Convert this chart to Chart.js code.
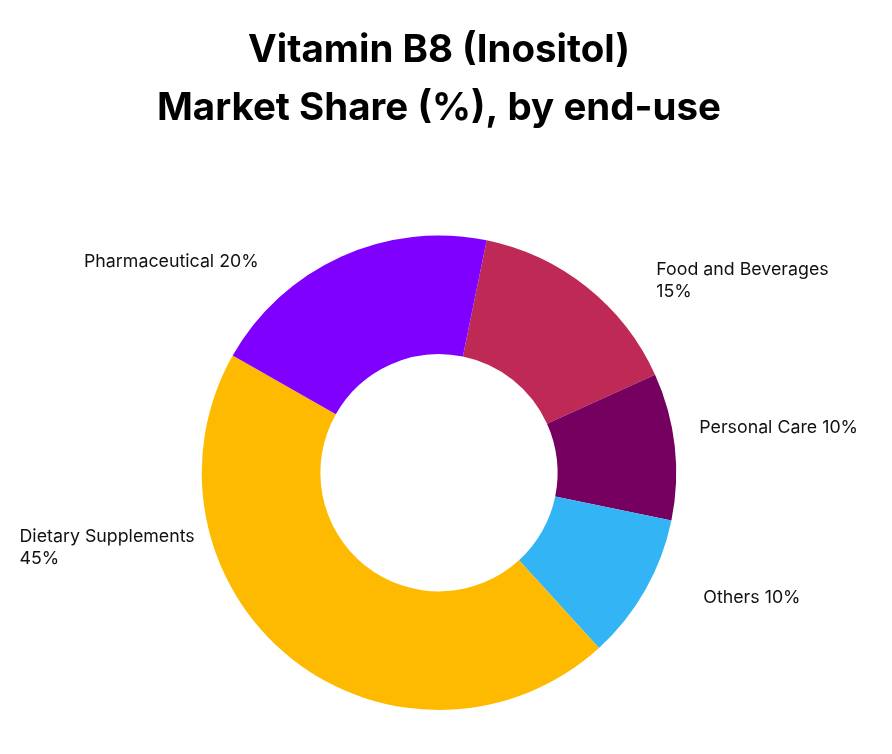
<!DOCTYPE html>
<html>
<head>
<meta charset="utf-8">
<title>Vitamin B8 (Inositol) Market Share</title>
<script src="https://cdn.jsdelivr.net/npm/chart.js"></script>
<style>
    html, body { margin: 0; padding: 0; background: #fff; }
    .chart-box { width: 892px; height: 754px; }
</style>
</head>
<body>
<div class="chart-box">
    <canvas id="donut"></canvas>
</div>
<script>
    // Data
    const categories = ['Food and Beverages', 'Personal Care', 'Others', 'Dietary Supplements', 'Pharmaceutical'];
    const shares = [15, 10, 10, 45, 20];
    const labelLines = [
        ['Food and Beverages', '15%'],
        ['Personal Care 10%'],
        ['Others 10%'],
        ['Dietary Supplements', '45%'],
        ['Pharmaceutical 20%']
    ];
    const colors = ['#BE2A55', '#750060', '#33B4F5', '#FDBA00', '#7F00FF'];

    // where each label sits, relative to the centre, in units of the outer radius
    const labelSpots = [
        { dx: 0.916, dy: -0.81, align: 'left' },
        { dx: 1.097, dy: -0.19, align: 'left' },
        { dx: 1.114, dy: 0.527, align: 'left' },
        { dx: -1.768, dy: 0.316, align: 'left' },
        { dx: -0.76, dy: -0.89, align: 'right' }
    ];

    // Simple plugin to draw the outside labels
    const outsideLabels = {
        id: 'outsideLabels',
        afterDatasetsDraw(chart) {
            const ctx = chart.ctx;
            const arcs = chart.getDatasetMeta(0).data;
            ctx.save();
            ctx.font = '17.8px Inter';
            ctx.fillStyle = '#111';
            ctx.textBaseline = 'middle';
            arcs.forEach((arc, i) => {
                const r = arc.outerRadius;
                const spot = labelSpots[i];
                const lines = labelLines[i];
                const lh = 22;
                const x = arc.x + spot.dx * r;
                const y0 = arc.y + spot.dy * r - (lines.length - 1) * lh / 2;
                ctx.textAlign = spot.align;
                lines.forEach((t, j) => ctx.fillText(t, x, y0 + j * lh));
            });
            ctx.restore();
        }
    };

    new Chart(document.getElementById('donut').getContext('2d'), {
        type: 'doughnut',
        data: {
            labels: categories,
            datasets: [{
                data: shares,
                backgroundColor: colors,
                borderWidth: 0
            }]
        },
        options: {
            responsive: true,
            maintainAspectRatio: false,
            animation: false,
            cutout: '50%',
            rotation: 11.6,
            layout: {
                padding: { top: 0, bottom: 44, left: 0, right: 14 }
            },
            plugins: {
                legend: { display: false },
                tooltip: { enabled: false },
                title: {
                    display: true,
                    text: ['Vitamin B8 (Inositol)', 'Market Share (%), by end-use'],
                    color: '#000',
                    font: { family: 'Inter', size: 38.5, weight: 'bold', lineHeight: 1.5 },
                    padding: { top: 22, bottom: 98 }
                }
            }
        },
        plugins: [outsideLabels]
    });
</script>
</body>
</html>
